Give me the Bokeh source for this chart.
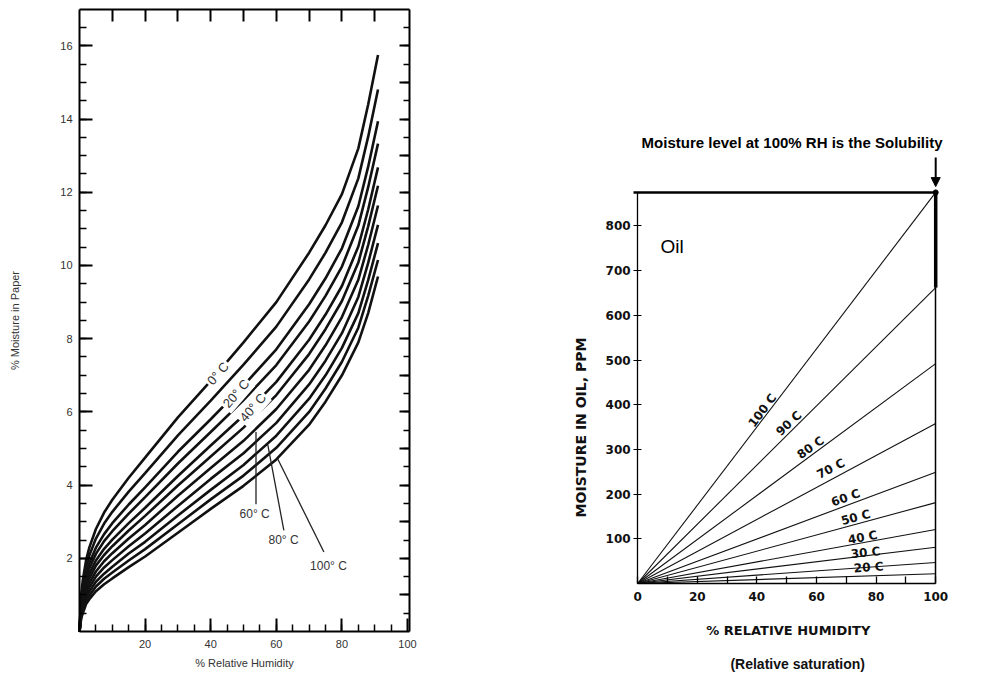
import math
from bokeh.plotting import figure
from bokeh.models import FixedTicker, LinearAxis, Range1d, Label, Arrow, NormalHead
from bokeh.layouts import row
from bokeh.embed import file_html
from bokeh.resources import INLINE

# ---------------- Data: moisture in paper (% by weight) vs % relative humidity ----------------
rh_paper = [0, 0.5, 1, 2, 3, 5, 7.5, 10, 15, 20, 30, 40, 50, 60, 70, 75, 80, 85, 88, 91]
paper_0C = [0, 1.00, 1.40, 1.95, 2.30, 2.80, 3.25, 3.60, 4.20, 4.75, 5.85, 6.85, 7.90, 9.00, 10.35, 11.10, 11.95, 13.20, 14.40, 15.75]
paper_10C = [0, 0.90, 1.26, 1.76, 2.08, 2.54, 2.95, 3.27, 3.82, 4.33, 5.36, 6.31, 7.29, 8.33, 9.62, 10.35, 11.18, 12.38, 13.52, 14.81]
paper_20C = [0, 0.81, 1.13, 1.59, 1.87, 2.29, 2.66, 2.96, 3.47, 3.94, 4.91, 5.80, 6.72, 7.71, 8.94, 9.65, 10.47, 11.62, 12.70, 13.94]
paper_30C = [0, 0.74, 1.04, 1.47, 1.73, 2.12, 2.47, 2.74, 3.22, 3.67, 4.59, 5.45, 6.32, 7.28, 8.47, 9.17, 9.97, 11.09, 12.14, 13.33]
paper_40C = [0, 0.67, 0.94, 1.34, 1.58, 1.94, 2.26, 2.51, 2.96, 3.38, 4.25, 5.08, 5.90, 6.82, 7.97, 8.66, 9.44, 10.52, 11.53, 12.68]
paper_50C = [0, 0.62, 0.87, 1.24, 1.46, 1.80, 2.09, 2.33, 2.76, 3.16, 3.99, 4.78, 5.57, 6.46, 7.58, 8.26, 9.03, 10.08, 11.07, 12.18]
paper_60C = [0, 0.56, 0.79, 1.13, 1.33, 1.64, 1.92, 2.14, 2.54, 2.91, 3.71, 4.47, 5.21, 6.08, 7.15, 7.82, 8.59, 9.61, 10.56, 11.64]
paper_70C = [0, 0.50, 0.71, 1.03, 1.21, 1.50, 1.75, 1.95, 2.33, 2.68, 3.43, 4.17, 4.87, 5.70, 6.75, 7.40, 8.15, 9.14, 10.07, 11.11]
paper_80C = [0, 0.45, 0.64, 0.93, 1.09, 1.36, 1.58, 1.77, 2.13, 2.45, 3.17, 3.87, 4.55, 5.35, 6.36, 7.00, 7.75, 8.70, 9.60, 10.61]
paper_90C = [0, 0.40, 0.57, 0.84, 0.98, 1.23, 1.44, 1.61, 1.94, 2.25, 2.93, 3.61, 4.26, 5.02, 6.00, 6.64, 7.37, 8.30, 9.17, 10.15]
paper_100C = [0, 0.35, 0.50, 0.75, 0.88, 1.10, 1.29, 1.45, 1.76, 2.05, 2.70, 3.35, 3.98, 4.70, 5.65, 6.28, 7.00, 7.90, 8.70, 9.70]
paper_curves = [paper_0C, paper_10C, paper_20C, paper_30C, paper_40C, paper_50C,
                paper_60C, paper_70C, paper_80C, paper_90C, paper_100C]

paper_x_ticks = [20, 40, 60, 80, 100]
paper_y_ticks = [2, 4, 6, 8, 10, 12, 14, 16]

# ---------------- Data: moisture in oil (ppm) vs % relative humidity ----------------
rh_oil = [0, 100]
oil_100C = [0, 875]
oil_90C = [0, 662]
oil_80C = [0, 492]
oil_70C = [0, 358]
oil_60C = [0, 249]
oil_50C = [0, 181]
oil_40C = [0, 121]
oil_30C = [0, 81]
oil_20C = [0, 47]
oil_10C = [0, 22]
oil_curves = [oil_100C, oil_90C, oil_80C, oil_70C, oil_60C, oil_50C, oil_40C, oil_30C, oil_20C, oil_10C]
oil_labels = ["100 C", "90 C", "80 C", "70 C", "60 C", "50 C", "40 C", "30 C", "20 C", None]
oil_x_ticks = [0, 20, 40, 60, 80, 100]
oil_y_ticks = [100, 200, 300, 400, 500, 600, 700, 800]

FONT = "Liberation Sans"
BOLD_WIDE = "DejaVu Sans"

# =============== Left figure: paper (frame fills the panel, box drawn by fixed axes) ===============
PX_MAX, PY_MAX = 100.5, 17
p1 = figure(width=430, height=675, x_range=Range1d(-24.09, 107.0), y_range=Range1d(-1.202, 17.24),
            output_backend="svg", toolbar_location=None,
            min_border_left=0, min_border_right=0, min_border_top=0, min_border_bottom=0)
p1.grid.visible = False
p1.outline_line_color = None

p1.xaxis.ticker = FixedTicker(ticks=paper_x_ticks, minor_ticks=list(range(5, 100, 5)))
p1.yaxis.ticker = FixedTicker(ticks=paper_y_ticks, minor_ticks=[i * 0.5 for i in range(1, 34)])
p1.xaxis.fixed_location = 0
p1.yaxis.fixed_location = 0
p1.xaxis.bounds = (0, PX_MAX)
p1.yaxis.bounds = (0, PY_MAX)
for ax in (p1.xaxis[0], p1.yaxis[0]):
    ax.axis_line_width = 2
    ax.major_tick_in = 13
    ax.major_tick_out = 0
    ax.minor_tick_in = 7
    ax.minor_tick_out = 0
    ax.major_tick_line_width = 2
    ax.minor_tick_line_width = 1.5
    ax.major_label_text_font = FONT
    ax.major_label_text_font_size = "11px"
    ax.major_label_text_color = "#333333"
    ax.axis_label_text_font = FONT
    ax.axis_label_text_font_size = "11px"
    ax.axis_label_text_font_style = "normal"
    ax.axis_label_text_color = "#333333"
p1.xaxis.axis_label = "% Relative Humidity"
p1.yaxis.axis_label = "% Moisture in Paper"
p1.xaxis.major_label_standoff = 8
p1.xaxis.axis_label_standoff = 6
p1.yaxis.major_label_standoff = 7
p1.yaxis.axis_label_standoff = 36

right_ax = LinearAxis(ticker=FixedTicker(ticks=list(range(1, 17)), minor_ticks=[i * 0.5 for i in range(1, 34)]),
                      fixed_location=PX_MAX, bounds=(0, PY_MAX),
                      major_label_text_color=None, major_tick_in=10, major_tick_out=0,
                      minor_tick_in=6, minor_tick_out=0, axis_line_width=2,
                      major_tick_line_width=2, minor_tick_line_width=1.5, major_label_standoff=0)
p1.add_layout(right_ax, "right")
top_ax = LinearAxis(ticker=FixedTicker(ticks=list(range(10, 100, 10)), minor_ticks=[]),
                    fixed_location=PY_MAX, bounds=(0, PX_MAX),
                    major_label_text_color=None, major_tick_in=12, major_tick_out=0,
                    minor_tick_in=0, minor_tick_out=0, axis_line_width=2,
                    major_tick_line_width=2, major_label_standoff=0)
p1.add_layout(top_ax, "above")

for ys in paper_curves:
    p1.line(rh_paper, ys, line_width=2.6, color="#111111")

# inline curve labels (with white box to break the curve)
for txt, x, y in [("0° C", 42.2, 7.05), ("20° C", 47.7, 6.50), ("40° C", 52.8, 6.12)]:
    p1.add_layout(Label(x=x, y=y, text=txt, angle=math.radians(49), text_align="center",
                        text_baseline="middle", text_font=FONT, text_font_size="13px",
                        text_color="#333333", background_fill_color="white", padding=2))

# leader lines and labels
leaders = [("60° C", 53.8, 5.45, 53.8, 3.48, 53.4, 3.20),
           ("80° C", 57.4, 5.10, 62.3, 2.76, 62.2, 2.50),
           ("100° C", 60.4, 4.72, 74.5, 2.17, 75.9, 1.78)]
for txt, x0, y0, x1, y1, lx, ly in leaders:
    p1.line([x0, x1], [y0, y1], line_width=1.3, color="#222222")
    p1.add_layout(Label(x=lx, y=ly, text=txt, text_align="center", text_baseline="middle",
                        text_font=FONT, text_font_size="12px", text_color="#333333"))

# =============== Right figure: oil (frame fills the panel; axes at fixed data locations) ===============
p2 = figure(width=566, height=675, x_range=Range1d(-69.5, 120.4), y_range=Range1d(-205.8, 1304.3),
            output_backend="svg", toolbar_location=None,
            min_border_left=0, min_border_right=0, min_border_top=0, min_border_bottom=0)
p2.grid.visible = False
p2.outline_line_color = None

p2.xaxis.ticker = FixedTicker(ticks=oil_x_ticks, minor_ticks=[10, 30, 50, 70, 90])
p2.yaxis.ticker = FixedTicker(ticks=oil_y_ticks, minor_ticks=[])
p2.xaxis.fixed_location = 0
p2.yaxis.fixed_location = 0
p2.xaxis.bounds = (0, 100)
p2.yaxis.bounds = (0, 875)
for ax in (p2.xaxis[0], p2.yaxis[0]):
    ax.axis_line_width = 1.3
    ax.major_label_text_font = BOLD_WIDE
    ax.major_label_text_font_style = "bold"
    ax.major_label_text_font_size = "12px"
    ax.major_label_text_color = "#111111"
p2.xaxis.major_tick_in = 7
p2.xaxis.major_tick_out = 0
p2.xaxis.minor_tick_in = 7
p2.xaxis.minor_tick_out = 0
p2.xaxis.major_tick_line_width = 1.3
p2.xaxis.minor_tick_line_width = 1.3
p2.xaxis.major_label_standoff = 8
p2.yaxis.major_tick_in = 4
p2.yaxis.major_tick_out = 4
p2.yaxis.minor_tick_in = 0
p2.yaxis.minor_tick_out = 0
p2.yaxis.major_label_standoff = 3

edge_r = LinearAxis(ticker=FixedTicker(ticks=[], minor_ticks=[]), fixed_location=100, bounds=(0, 875),
                    major_label_text_color=None, axis_line_width=1.5, major_tick_in=0, major_tick_out=0,
                    minor_tick_in=0, minor_tick_out=0)
p2.add_layout(edge_r, "right")
edge_t = LinearAxis(ticker=FixedTicker(ticks=[], minor_ticks=[]), fixed_location=875, bounds=(-1.3, 100),
                    major_label_text_color=None, axis_line_width=2.5, major_tick_in=0, major_tick_out=0,
                    minor_tick_in=0, minor_tick_out=0)
p2.add_layout(edge_t, "above")

for ys in oil_curves:
    p2.line(rh_oil, ys, line_width=1.1, color="#111111")

# thick solubility bar at 100% RH and corner dot
p2.line([rh_oil[-1], rh_oil[-1]], [oil_90C[-1], oil_100C[-1]], line_width=3.5, color="black")
p2.scatter([rh_oil[-1]], [oil_100C[-1]], size=5, color="black")

oil_label_pos = [(41.9, 387, 53), (50.7, 358, 43), (58.0, 304, 35), (64.8, 257, 27),
                 (69.8, 192, 20), (73.2, 148, 15), (75.5, 103, 10), (76.5, 69, 6), (77.5, 36, 4)]
for txt, (lx, ly, ang) in zip(oil_labels, oil_label_pos):
    if txt is None:
        continue
    p2.add_layout(Label(x=lx, y=ly, text=txt, angle=math.radians(ang), text_align="center",
                        text_baseline="middle", text_font=BOLD_WIDE, text_font_style="bold",
                        text_font_size="12px", text_color="#111111"))

p2.add_layout(Label(x=51.8, y=987, text="Moisture level at 100% RH is the Solubility",
                    text_align="center", text_baseline="middle", text_font=FONT,
                    text_font_style="bold", text_font_size="15px", text_color="black"))
p2.add_layout(Arrow(end=NormalHead(size=9, fill_color="black", line_color="black"),
                    x_start=100, y_start=953, x_end=100, y_end=888, line_width=2, line_color="black"))
p2.add_layout(Label(x=7.7, y=754, text="Oil", text_align="left", text_baseline="middle",
                    text_font=FONT, text_font_size="19px", text_color="black"))
p2.add_layout(Label(x=-19.1, y=349, text="MOISTURE IN OIL, PPM", angle=math.pi / 2,
                    text_align="center", text_baseline="middle", text_font=BOLD_WIDE,
                    text_font_style="bold", text_font_size="14px", text_color="#111111"))
p2.add_layout(Label(x=51.3, y=-105, text="%  RELATIVE HUMIDITY", text_align="center",
                    text_baseline="middle", text_font=BOLD_WIDE, text_font_style="bold",
                    text_font_size="13px", text_color="#111111"))
p2.add_layout(Label(x=53.7, y=-179, text="(Relative saturation)", text_align="center",
                    text_baseline="middle", text_font=FONT, text_font_style="bold",
                    text_font_size="14px", text_color="#111111"))

layout = row(p1, p2)
open("out.html", "w").write(file_html(layout, INLINE))
